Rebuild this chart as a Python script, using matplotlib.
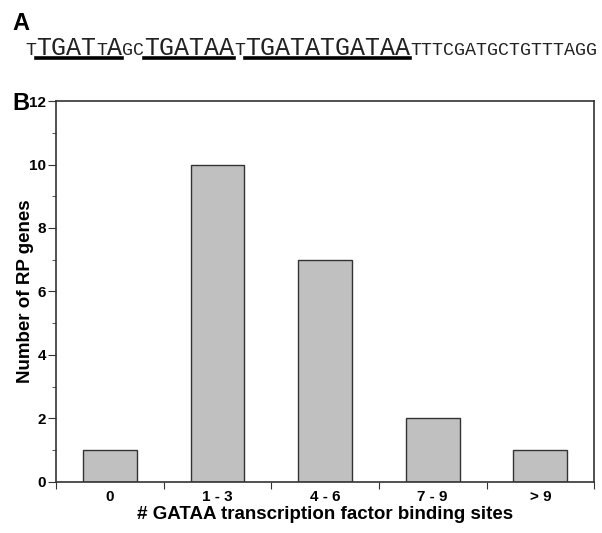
import matplotlib.pyplot as plt
import numpy as np
from matplotlib.ticker import MultipleLocator, FixedLocator, NullFormatter

categories = ['0', '1 - 3', '4 - 6', '7 - 9', '> 9']
counts = [1, 10, 7, 2, 1]

# sequence pieces: (text, is_site_letter, underline_group)
seq_pieces = [
    ('T', False, None),
    ('TGAT', True, 0),
    ('T', False, 0),
    ('A', True, 0),
    ('GC', False, None),
    ('TGATAA', True, 1),
    ('T', False, None),
    ('TGATATGATAA', True, 2),
    ('TTTCGATGCTGTTTAGG', False, None),
]

plt.rcParams['font.family'] = ['Liberation Sans', 'DejaVu Sans']

fig = plt.figure(figsize=(6.02, 5.33), dpi=100)
ax = fig.add_axes([0.093, 0.0957, 0.894, 0.7148])

x = np.arange(len(categories))
ax.bar(x, counts, width=0.5, color='#c0c0c0', edgecolor='#333333', linewidth=1.0)

ax.set_xlim(-0.5, len(categories) - 0.5)
ax.set_ylim(0, 12)
ax.yaxis.set_major_locator(MultipleLocator(2))
ax.yaxis.set_minor_locator(MultipleLocator(1))
ax.xaxis.set_major_locator(FixedLocator(np.arange(-0.5, len(categories), 1)))
ax.xaxis.set_major_formatter(NullFormatter())
ax.xaxis.set_minor_locator(FixedLocator(x))
ax.set_xticklabels(categories, minor=True)
ax.tick_params(axis='x', which='minor', length=0, pad=6)
ax.tick_params(axis='x', which='major', length=5, color='#333333')
ax.tick_params(axis='y', which='major', length=6, color='#333333', pad=1)
ax.tick_params(axis='y', which='minor', length=3, color='#333333')
for lab in ax.get_xticklabels(minor=True) + ax.get_yticklabels():
    lab.set_fontweight('bold')
    lab.set_fontsize(11)
for s in ax.spines.values():
    s.set_color('#333333')
    s.set_linewidth(1.2)

ax.set_xlabel('# GATAA transcription factor binding sites', fontsize=13.5,
              fontweight='bold', labelpad=1)
ax.set_ylabel('Number of RP genes', fontsize=13.5, fontweight='bold')
ax.yaxis.set_label_coords(-0.04, 0.5)

fig.text(0.02, 0.944, 'A', fontsize=17, fontweight='bold', va='baseline')
fig.text(0.02, 0.794, 'B', fontsize=17, fontweight='bold', va='baseline')

# sequence line
texts = []
for txt, big, grp in seq_pieces:
    size = 18 if big else 13.2
    t = fig.text(0, 0.897, txt, fontsize=size, family='Liberation Mono',
                 va='baseline', ha='left', color='#222222')
    texts.append(t)

fig.canvas.draw()
r = fig.canvas.get_renderer()
W, H = fig.bbox.width, fig.bbox.height
xpos = 0.042 * W
for t in texts:
    t.set_position((xpos / W, 0.897))
    xpos += t.get_window_extent(r).width

fig.canvas.draw()
groups = {}
for t, (txt, big, grp) in zip(texts, seq_pieces):
    if grp is None:
        continue
    bb = t.get_window_extent(r)
    g = groups.setdefault(grp, [bb.x0, bb.x1])
    g[0] = min(g[0], bb.x0)
    g[1] = max(g[1], bb.x1)
for g in groups.values():
    uy = 0.897 - 3.5 / H
    fig.add_artist(plt.Line2D([g[0] / W, g[1] / W], [uy, uy], color='black',
                              linewidth=2.6, transform=fig.transFigure))

fig.savefig('out.png', dpi=100)
